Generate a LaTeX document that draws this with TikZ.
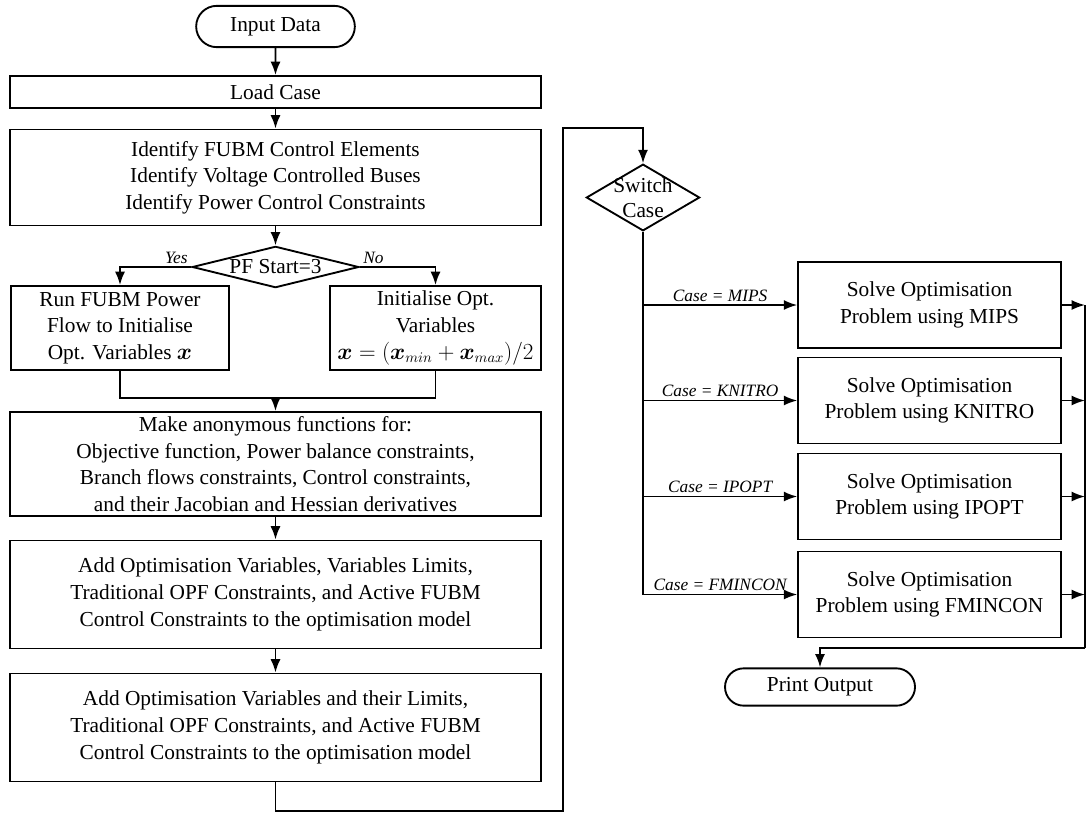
\documentclass[tikz,border=0pt]{standalone}
\usepackage{amsmath}
\usepackage{bm}
\usepackage{fontspec}
\setmainfont{Liberation Serif}
\usetikzlibrary{arrows.meta,shapes.geometric,shapes.misc}

\begin{document}
\begin{tikzpicture}[x=0.75pt, y=-0.75pt, line width=1.4pt,
	>={Latex[length=10pt,width=7.5pt]},
	box/.style={draw, rectangle, align=center, inner sep=0pt, font=\fontsize{16}{20}\selectfont},
	term/.style={draw, rounded rectangle, align=center, inner sep=0pt, font=\fontsize{16}{20}\selectfont},
	decide/.style={draw, diamond, align=center, inner sep=0pt, font=\fontsize{16}{19}\selectfont},
	lbl/.style={font=\fontsize{13}{15}\selectfont\itshape, inner sep=2pt}]
\useasboundingbox (0,0) rectangle (1087,814);
% left column
\node[term, minimum width=119pt, minimum height=31pt] (input) at (275.5,26.5) {Input Data};
\node[box, minimum width=398pt, minimum height=24pt] (load) at (275.5,92) {Load Case};
\node[box, minimum width=398pt, minimum height=72pt] (ident) at (275.5,177.5) {Identify FUBM Control Elements\\Identify Voltage Controlled Buses\\Identify Power Control Constraints};
\node[decide, aspect=4, minimum width=125pt, minimum height=31pt] (pfstart) at (275.5,267) {PF Start=3};
\node[box, minimum width=163.5pt, minimum height=63pt] (runpf) at (120,328) {Run FUBM Power\\Flow to Initialise\\Opt. Variables $\bm{x}$};
\node[box, minimum width=158.25pt, minimum height=63pt] (initx) at (435.5,328) {Initialise Opt.\\Variables\\$\bm{x}=(\bm{x}_{min}+\bm{x}_{max})/2$};
\node[box, minimum width=398pt, minimum height=78pt] (anon) at (275.5,464) {Make anonymous functions for:\\Objective function, Power balance constraints,\\Branch flows constraints, Control constraints,\\and their Jacobian and Hessian derivatives};
\node[box, minimum width=398pt, minimum height=81pt] (addvars) at (275.5,594.5) {Add Optimisation Variables, Variables Limits,\\Traditional OPF Constraints, and Active FUBM\\Control Constraints to the optimisation model};
\node[box, minimum width=398pt, minimum height=81pt] (addlims) at (275.5,727.5) {Add Optimisation Variables and their Limits,\\Traditional OPF Constraints, and Active FUBM\\Control Constraints to the optimisation model};
% right column
\node[decide, aspect=1.7, inner sep=-4pt, minimum width=85pt, minimum height=50pt] (switch) at (643,197.5) {Switch\\Case};
\node[box, minimum width=197pt, minimum height=64.5pt] (mips) at (929.5,305) {Solve Optimisation\\Problem using MIPS};
\node[box, minimum width=197pt, minimum height=64.5pt] (knitro) at (929.5,400.5) {Solve Optimisation\\Problem using KNITRO};
\node[box, minimum width=197pt, minimum height=64.5pt] (ipopt) at (929.5,496.5) {Solve Optimisation\\Problem using IPOPT};
\node[box, minimum width=197pt, minimum height=64.5pt] (fmincon) at (929.5,594.5) {Solve Optimisation\\Problem using FMINCON};
\node[term, minimum width=142.5pt, minimum height=28pt] (print) at (820,687) {Print Output};
\coordinate (merge) at (275.5,398);
\coordinate (loopbot) at (563,811);
\coordinate (looptop) at (563,128);
\coordinate (collect) at (1085,648);
% connectors
\draw[->] (input) -- (load);
\draw[->] (load) -- (ident);
\draw[->] (ident) -- (pfstart);
\draw[->] (pfstart.west) node[lbl, above left] {Yes} -| (runpf.north);
\draw[->] (pfstart.east) node[lbl, above right] {No} -| (initx.north);
\draw (runpf.south) |- (merge) -| (initx.south);
\draw[->] (merge) -- (anon.north);
\draw[->] (anon) -- (addvars);
\draw[->] (addvars) -- (addlims);
\draw[->] (addlims.south) |- (loopbot) -- (looptop) -| (switch.north);
\draw[->] (switch.south) |- node[lbl, above, pos=0.75] {Case = FMINCON} (fmincon.west);
\draw[->] (switch.south |- mips.west) -- node[lbl, above] {Case = MIPS} (mips.west);
\draw[->] (switch.south |- knitro.west) -- node[lbl, above] {Case = KNITRO} (knitro.west);
\draw[->] (switch.south |- ipopt.west) -- node[lbl, above] {Case = IPOPT} (ipopt.west);
\draw[->] (mips.east) -- (mips.east -| collect);
\draw[->] (knitro.east) -- (knitro.east -| collect);
\draw[->] (ipopt.east) -- (ipopt.east -| collect);
\draw[->] (fmincon.east) -- (fmincon.east -| collect);
\draw (mips.east -| collect) -- (collect);
\draw[->] (collect) -| (print.north);
\end{tikzpicture}
\end{document}
